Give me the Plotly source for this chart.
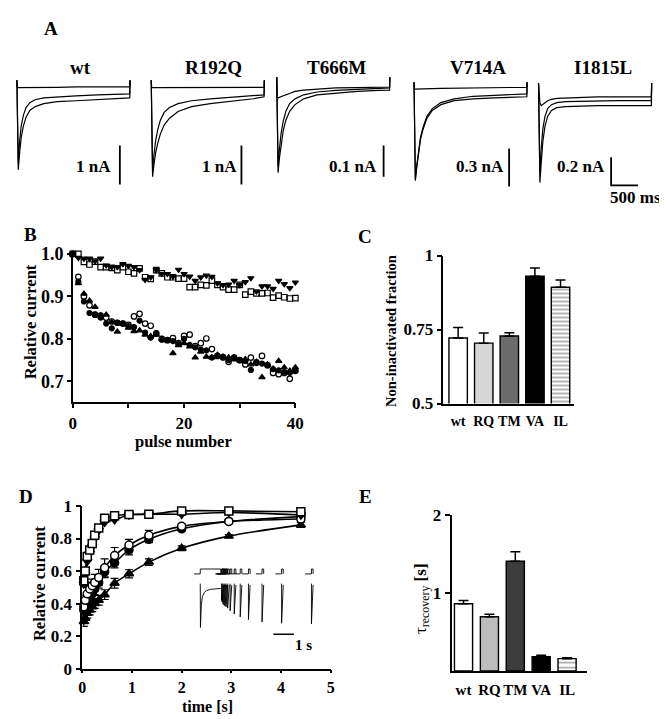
import plotly.graph_objects as go

W, H = 667, 719
SERIF = "Liberation Serif, Times New Roman, Times, serif"

# ======================= DATA =======================
# Panel A: representative Na+ current traces (nA), sampled at these times (ms)
trace_time_ms = [0, 8, 25, 50, 80, 120, 170, 240, 340, 500, 750, 1100, 1500, 1900, 2100, 2105]
a_names = ["wt", "R192Q", "T666M", "V714A", "I1815L"]
traces_wt = [
    [0, -1.125, -2.3, -1.875, -1.475, -1.175, -0.95, -0.775, -0.675, -0.6, -0.55, -0.525, -0.5, -0.475, -0.45, 0],
    [0, -1.125, -2.125, -1.575, -1.175, -0.9, -0.7, -0.575, -0.5, -0.45, -0.425, -0.4, -0.375, -0.36, -0.35, 0],
    [0, -0.18, -0.19, -0.19, -0.19, -0.19, -0.19, -0.18, -0.18, -0.18, -0.18, -0.17, -0.17, -0.17, -0.17, 0],
]
traces_rq = [
    [0, -1.25, -2.475, -2.175, -1.875, -1.625, -1.375, -1.15, -0.975, -0.8, -0.675, -0.6, -0.54, -0.475, -0.425, 0],
    [0, -1.175, -2.325, -1.925, -1.575, -1.275, -1.025, -0.825, -0.7, -0.6, -0.525, -0.475, -0.44, -0.4, -0.375, 0],
    [0, -0.18, -0.19, -0.19, -0.19, -0.19, -0.19, -0.19, -0.19, -0.18, -0.18, -0.18, -0.18, -0.18, -0.18, 0],
]
traces_tm = [
    [0, -0.15, -0.306, -0.259, -0.2125, -0.172, -0.1375, -0.109, -0.0875, -0.069, -0.056, -0.05, -0.045, -0.042, -0.041, 0],
    [0, -0.134, -0.284, -0.231, -0.181, -0.141, -0.109, -0.084, -0.069, -0.056, -0.047, -0.042, -0.039, -0.036, -0.034, 0],
    [0, -0.066, -0.066, -0.064, -0.0625, -0.059, -0.056, -0.052, -0.045, -0.041, -0.0375, -0.034, -0.033, -0.031, -0.031, 0],
]
traces_va = [
    [0, -0.408, -0.777, -0.677, -0.561, -0.454, -0.369, -0.285, -0.223, -0.177, -0.146, -0.131, -0.123, -0.115, -0.115, 0],
    [0, -0.408, -0.761, -0.661, -0.546, -0.438, -0.354, -0.269, -0.208, -0.161, -0.131, -0.111, -0.104, -0.096, -0.092, 0],
    [0, -0.054, -0.054, -0.054, -0.054, -0.054, -0.052, -0.05, -0.05, -0.048, -0.046, -0.044, -0.042, -0.04, -0.04, 0],
]
traces_il = [
    [0, -0.359, -0.704, -0.566, -0.414, -0.304, -0.235, -0.193, -0.173, -0.166, -0.162, -0.159, -0.159, -0.159, -0.159, 0],
    [0, -0.324, -0.635, -0.462, -0.324, -0.235, -0.179, -0.152, -0.138, -0.131, -0.128, -0.124, -0.124, -0.124, -0.124, 0],
    [0, -0.083, -0.138, -0.159, -0.152, -0.138, -0.124, -0.114, -0.107, -0.104, -0.1, -0.097, -0.097, -0.097, -0.097, 0],
]
a_traces = [traces_wt, traces_rq, traces_tm, traces_va, traces_il]
scale_bar_nA = [1, 1, 0.1, 0.3, 0.2]
scale_bar_text = ["1 nA", "1 nA", "0.1 nA", "0.3 nA", "0.2 nA"]
time_bar_ms = 500

# Panel B: relative current vs pulse number
pulse_number = list(range(41))
b_open_square = [1.0, 1.0, 0.981, 0.975, 0.982, 0.969, 0.969, 0.967, 0.962, 0.969, 0.958, 0.954, 0.966, 0.945,
                 0.941, 0.962, 0.954, 0.945, 0.945, 0.942, 0.942, 0.922, 0.922, 0.927, 0.926, 0.937, 0.927, 0.922,
                 0.916, 0.916, 0.927, 0.904, 0.911, 0.907, 0.907, 0.908, 0.897, 0.902, 0.898, 0.895, 0.896]
b_down_triangle = [1.0, 0.991, 0.989, 0.989, 0.983, 0.989, 0.973, 0.969, 0.969, 0.976, 0.972, 0.969, 0.962, 0.939,
                   0.945, 0.962, 0.953, 0.953, 0.947, 0.963, 0.953, 0.947, 0.937, 0.945, 0.949, 0.946, 0.931, 0.927,
                   0.928, 0.937, 0.927, 0.934, 0.943, 0.912, 0.924, 0.924, 0.918, 0.937, 0.929, 0.92, 0.933]
b_open_circle = [1.0, 0.946, 0.9, 0.879, 0.857, 0.855, 0.85, 0.841, 0.838, 0.836, 0.833, 0.853, 0.859, 0.836,
                 0.831, 0.813, 0.8, 0.797, 0.802, 0.79, 0.807, 0.81, 0.783, 0.79, 0.801, 0.776, 0.76, 0.757, 0.746,
                 0.755, 0.75, 0.74, 0.756, 0.745, 0.76, 0.738, 0.72, 0.717, 0.72, 0.706, 0.725]
b_filled_circle = [1.0, 0.935, 0.888, 0.861, 0.857, 0.85, 0.836, 0.825, 0.838, 0.836, 0.83, 0.828, 0.843, 0.815,
                   0.803, 0.813, 0.798, 0.797, 0.795, 0.788, 0.8, 0.786, 0.78, 0.775, 0.773, 0.756, 0.76, 0.756,
                   0.75, 0.757, 0.75, 0.748, 0.727, 0.743, 0.742, 0.738, 0.729, 0.726, 0.722, 0.72, 0.725]
b_up_triangle = [1.0, 0.931, 0.906, 0.89, 0.875, 0.855, 0.857, 0.84, 0.817, 0.835, 0.826, 0.818, 0.82, 0.81,
                 0.806, 0.81, 0.8, 0.796, 0.766, 0.785, 0.79, 0.782, 0.756, 0.77, 0.758, 0.756, 0.762, 0.758,
                 0.756, 0.752, 0.749, 0.752, 0.74, 0.746, 0.71, 0.74, 0.73, 0.748, 0.733, 0.725, 0.733]

# Panels C & E: bar charts
bar_categories = ["wt", "RQ", "TM", "VA", "IL"]
c_fraction = [0.7215, 0.704, 0.728, 0.93, 0.893]
c_fraction_err = [0.035, 0.034, 0.011, 0.028, 0.024]
e_tau = [0.8625, 0.696, 1.408, 0.183, 0.158]
e_tau_err = [0.042, 0.033, 0.121, 0.02, 0.01]

# Panel D: recovery from inactivation
recovery_time_s = [0.03, 0.06, 0.1, 0.15, 0.2, 0.25, 0.33, 0.45, 0.65, 0.94, 1.34, 2.0, 2.95, 4.4]
d_open_square = [0.54, 0.6, 0.69, 0.73, 0.77, 0.82, 0.865, 0.925, 0.94, 0.948, 0.95, 0.97, 0.97, 0.965]
d_down_triangle = [0.52, 0.58, 0.66, 0.71, 0.75, 0.8, 0.85, 0.9, 0.915, 0.945, 0.95, 0.95, 0.96, 0.945]
d_open_circle = [0.38, 0.42, 0.46, 0.49, 0.51, 0.53, 0.56, 0.62, 0.695, 0.76, 0.82, 0.875, 0.905, 0.92]
d_open_circle_err = [0.03, 0.03, 0.04, 0.04, 0.04, 0.05, 0.05, 0.055, 0.05, 0.035, 0.03, 0.015, 0.01, 0.015]
d_filled_circle = [0.36, 0.38, 0.4, 0.43, 0.46, 0.49, 0.53, 0.595, 0.65, 0.73, 0.795, 0.86, 0.905, 0.935]
d_filled_circle_err = [0.03, 0.03, 0.03, 0.03, 0.035, 0.035, 0.035, 0.035, 0.03, 0.03, 0.02, 0.015, 0.01, 0.01]
d_up_triangle = [0.29, 0.31, 0.34, 0.36, 0.38, 0.4, 0.42, 0.455, 0.525, 0.583, 0.655, 0.74, 0.815, 0.884]
d_up_triangle_err = [0.03, 0.03, 0.03, 0.03, 0.03, 0.03, 0.03, 0.03, 0.03, 0.025, 0.02, 0.015, 0.01, 0.015]
# inset: conditioning-pulse current (normalised) and 1 s time bar
inset_pre_time_s = [0, 0.01, 0.05, 0.1, 0.2, 0.3, 0.5, 0.7, 1.0]
inset_pre_current = [0, -1, -0.5, -0.3, -0.2, -0.16, -0.13, -0.12, -0.11]
inset_time_bar_s = 1.0

# ======================= LAYOUT HELPERS =======================
def dx(a, b):
    return [a / W, b / W]

def dy(top, bottom):
    return [1 - bottom / H, 1 - top / H]

def tfont(size=17):
    return dict(family=SERIF, size=size, color="black", weight="bold")

def vis_axis(**kw):
    d = dict(showline=True, linecolor="black", linewidth=1.6, ticks="outside", ticklen=5, tickwidth=1.6,
             tickcolor="black", showgrid=False, zeroline=False, tickfont=tfont(17), fixedrange=True,
             tickangle=0)
    d.update(kw)
    return d

def hid_axis(**kw):
    d = dict(visible=False, showgrid=False, zeroline=False, fixedrange=True)
    d.update(kw)
    return d

annotations = []

def ann(text, x, y, size=16, angle=0, bold=True):
    annotations.append(dict(text=text, x=x / W, y=1 - y / H, xref="paper", yref="paper", xanchor="center",
                            yanchor="middle", showarrow=False, textangle=angle,
                            font=dict(family=SERIF, size=size, color="black",
                                      weight="bold" if bold else "normal")))

fig = go.Figure()
layout = dict(width=W, height=H, margin=dict(l=0, r=0, t=0, b=0), paper_bgcolor="white",
              plot_bgcolor="rgba(0,0,0,0)", showlegend=False, font=dict(family=SERIF, color="black"))

# ======================= PANEL A =======================
MS_PER_PX = 500 / 27.4
a_geom = [(5, 65, 1 / 40), (142, 65, 1 / 40), (270, 62, 0.1 / 32), (410, 67, 0.3 / 39), (537, 68, 0.2 / 29)]
a_bar_px = [(110, 172), (234, 172), (379, 164), (507, 174), (611, 173)]
a_name_x = [70, 205, 331, 475, 603]
a_bar_label_x = [83, 212, 348, 477, 580]
for i in range(5):
    n = i + 1
    x0, zero, s = a_geom[i]
    layout[f"xaxis{n}"] = hid_axis(domain=dx(x0 - 4, x0 + 126), range=[-4 * MS_PER_PX, 126 * MS_PER_PX],
                                   anchor=f"y{n}")
    layout[f"yaxis{n}"] = hid_axis(domain=dy(50, 190), range=[-(190 - zero) * s, (zero - 50) * s],
                                   anchor=f"x{n}")
    for tr in a_traces[i]:
        fig.add_trace(go.Scatter(x=trace_time_ms, y=tr, mode="lines", line=dict(color="black", width=1.2),
                                 xaxis=f"x{n}", yaxis=f"y{n}", hoverinfo="skip"))
    bx, by = a_bar_px[i]
    bar_t = (bx - x0) * MS_PER_PX
    bar_b = -(by - zero) * s
    if i == 4:
        fig.add_trace(go.Scatter(x=[bar_t, bar_t, bar_t + time_bar_ms], y=[bar_b + scale_bar_nA[i], bar_b, bar_b],
                                 mode="lines", line=dict(color="black", width=1.8),
                                 xaxis=f"x{n}", yaxis=f"y{n}", hoverinfo="skip"))
    else:
        fig.add_trace(go.Scatter(x=[bar_t, bar_t], y=[bar_b, bar_b + scale_bar_nA[i]], mode="lines",
                                 line=dict(color="black", width=1.8), xaxis=f"x{n}", yaxis=f"y{n}",
                                 hoverinfo="skip"))
    ann(a_names[i], a_name_x[i], 52, 19)
    ann(scale_bar_text[i], a_bar_label_x[i], 154, 17)
ann("500 ms", 636, 185, 17)
ann("A", 40, 12, 19)

# ======================= PANEL B =======================
B_YR = [0.6526, 1.0076]
layout["xaxis6"] = vis_axis(domain=dx(62, 289), range=[0, 40], anchor="y6",
                            tickvals=[0, 20, 40], ticktext=["0", "20", "40"],
                            minor=dict(tickvals=[10, 30], ticks="outside", ticklen=5, tickwidth=1.6,
                                       tickcolor="black", showgrid=False))
layout["yaxis6"] = vis_axis(domain=dy(240, 395), range=B_YR, anchor="x6", tickfont=tfont(18),
                            tickvals=[0.7, 0.8, 0.9, 1.0], ticktext=["0.7", "0.8", "0.9", "1.0"], ticklen=4)
b_series = [(b_open_square, "square-open", 5.5), (b_down_triangle, "triangle-down", 5.5),
            (b_open_circle, "circle-open", 5.5), (b_filled_circle, "circle", 5), (b_up_triangle, "triangle-up", 5.5)]
for vals, sym, sz in b_series:
    fig.add_trace(go.Scatter(x=pulse_number, y=vals, mode="markers", cliponaxis=False,
                             marker=dict(symbol=sym, size=sz, color="black", line=dict(color="black", width=1.2)),
                             xaxis="x6", yaxis="y6", hoverinfo="skip"))
ann("B", 19, 223, 19)
ann("Relative current", 19, 313, 16.5, angle=-90)
ann("pulse number", 175, 436, 16.5)

# ======================= PANEL C =======================
c_colors = ["white", "#d6d6d6", "#6b6b6b", "black", "white"]
layout["xaxis7"] = vis_axis(domain=dx(440, 573), range=[-0.575, 4.52], anchor="y7", ticks="",
                            tickfont=tfont(14), type="category", ticklabelstandoff=4)
layout["yaxis7"] = vis_axis(domain=dy(245, 397), range=[0.5, 1.0], anchor="x7",
                            tickvals=[0.5, 0.75, 1.0], ticktext=["0.5", "0.75", "1"])
fig.add_trace(go.Bar(x=bar_categories, y=c_fraction, width=0.72,
                     marker=dict(color=c_colors, line=dict(color="black", width=1.4),
                                 pattern=dict(shape=["", "", "", "", "-"], fgcolor="black", size=4, solidity=0.4)),
                     error_y=dict(type="data", symmetric=False, array=c_fraction_err, arrayminus=[0] * 5,
                                  color="black", thickness=1.5, width=5),
                     xaxis="x7", yaxis="y7", hoverinfo="skip"))
ann("C", 360, 225, 19)
ann("Non-inactivated fraction", 387, 322, 14.5, angle=-90)

# ======================= PANEL D =======================
layout["xaxis8"] = vis_axis(domain=dx(71.7, 325), range=[0, 5], anchor="y8", tickvals=[0, 1, 2, 3, 4, 5],
                            tickfont=tfont(16), ticklen=3)
layout["yaxis8"] = vis_axis(domain=dy(502.3, 669.3), range=[0, 1], anchor="x8",
                            tickvals=[0, 0.2, 0.4, 0.6, 0.8, 1.0],
                            ticktext=["0", "0.2", "0.4", "0.6", "0.8", "1"])
d_series = [
    (d_up_triangle, d_up_triangle_err, "triangle-up", "black"),
    (d_filled_circle, d_filled_circle_err, "circle", "black"),
    (d_open_circle, d_open_circle_err, "circle", "white"),
    (d_down_triangle, None, "triangle-down", "black"),
    (d_open_square, None, "square", "white"),
]
for vals, err, sym, fill in d_series:
    kw = {}
    if err is not None:
        kw["error_y"] = dict(type="data", array=err, color="black", thickness=1.2, width=4)
    fig.add_trace(go.Scatter(x=recovery_time_s, y=vals, mode="lines+markers", cliponaxis=False,
                             line=dict(color="black", width=1.6, shape="spline", smoothing=0.8),
                             marker=dict(symbol=sym, size=8, color=fill, line=dict(color="black", width=1.5)),
                             xaxis="x8", yaxis="y8", hoverinfo="skip", **kw))
ann("D", 14, 493, 19)
ann("Relative current", 28, 582, 16.5, angle=-90)
ann("time [s]", 199, 708, 16)

# ---- inset (currents) ----
IN_PX_PER_S = 21.0
IN_T0 = 192
IN_ZERO, IN_PEAK = 582, 45.0
layout["xaxis9"] = hid_axis(domain=dx(185, 312), range=[(185 - IN_T0) / IN_PX_PER_S, (312 - IN_T0) / IN_PX_PER_S],
                            anchor="y9")
layout["yaxis9"] = hid_axis(domain=dy(575, 650), range=[-(650 - IN_ZERO) / IN_PEAK, (IN_ZERO - 575) / IN_PEAK],
                            anchor="x9")
sx, sy = list(inset_pre_time_s), list(inset_pre_current)
for t, v in zip(recovery_time_s, d_open_circle):
    tt = inset_pre_time_s[-1] + t
    sx += [None, tt, tt, tt + 0.08]
    sy += [None, 0, -v, -0.03]
fig.add_trace(go.Scatter(x=sx, y=sy, mode="lines", line=dict(color="black", width=0.9),
                         xaxis="x9", yaxis="y9", hoverinfo="skip"))
bar_y = -(634 - IN_ZERO) / IN_PEAK
fig.add_trace(go.Scatter(x=[3.55, 3.55 + inset_time_bar_s], y=[bar_y, bar_y], mode="lines",
                         line=dict(color="black", width=1.5), xaxis="x9", yaxis="y9", hoverinfo="skip"))
ann("1 s", 297, 645, 15)

# ---- inset (voltage protocol) ----
layout["xaxis10"] = hid_axis(domain=dx(185, 312), range=[(185 - IN_T0) / IN_PX_PER_S, (312 - IN_T0) / IN_PX_PER_S],
                             anchor="y10")
layout["yaxis10"] = hid_axis(domain=dy(563, 576), range=[-0.8, 1.8], anchor="x10")
px_, py_ = [-0.3, 0, 0, 1.0, 1.0], [0, 0, 1, 1, 0]
for t in recovery_time_s:
    tt = 1.0 + t
    px_ += [None, tt - 0.3, tt, tt, tt + 0.08, tt + 0.08]
    py_ += [None, 0, 0, 1, 1, 0]
fig.add_trace(go.Scatter(x=px_, y=py_, mode="lines", line=dict(color="black", width=0.9),
                         xaxis="x10", yaxis="y10", hoverinfo="skip"))

# ======================= PANEL E =======================
e_colors = ["white", "#bdbdbd", "#3c3c3c", "black", "white"]
layout["xaxis11"] = vis_axis(domain=dx(448.3, 586.7), range=[-0.462, 4.78], anchor="y11", ticks="",
                             tickfont=tfont(15), type="category", ticklabelstandoff=4)
layout["yaxis11"] = vis_axis(domain=dy(511.7, 671.7), range=[0, 2], anchor="x11", tickvals=[1, 2],
                             ticktext=["1", "2"])
fig.add_trace(go.Bar(x=bar_categories, y=e_tau, width=0.7,
                     marker=dict(color=e_colors, line=dict(color="black", width=1.4),
                                 pattern=dict(shape=["", "", "", "", "-"], fgcolor="black", size=5, solidity=0.3)),
                     error_y=dict(type="data", symmetric=False, array=e_tau_err, arrayminus=[0] * 5,
                                  color="black", thickness=1.5, width=5),
                     xaxis="x11", yaxis="y11", hoverinfo="skip"))
ann("E", 361, 493, 19)
ann("τ<sub>recovery</sub> <b>[s]</b>", 418, 597, 17, angle=-90, bold=False)

layout["annotations"] = annotations
fig.update_layout(**layout)
fig.write_html("out.html")
